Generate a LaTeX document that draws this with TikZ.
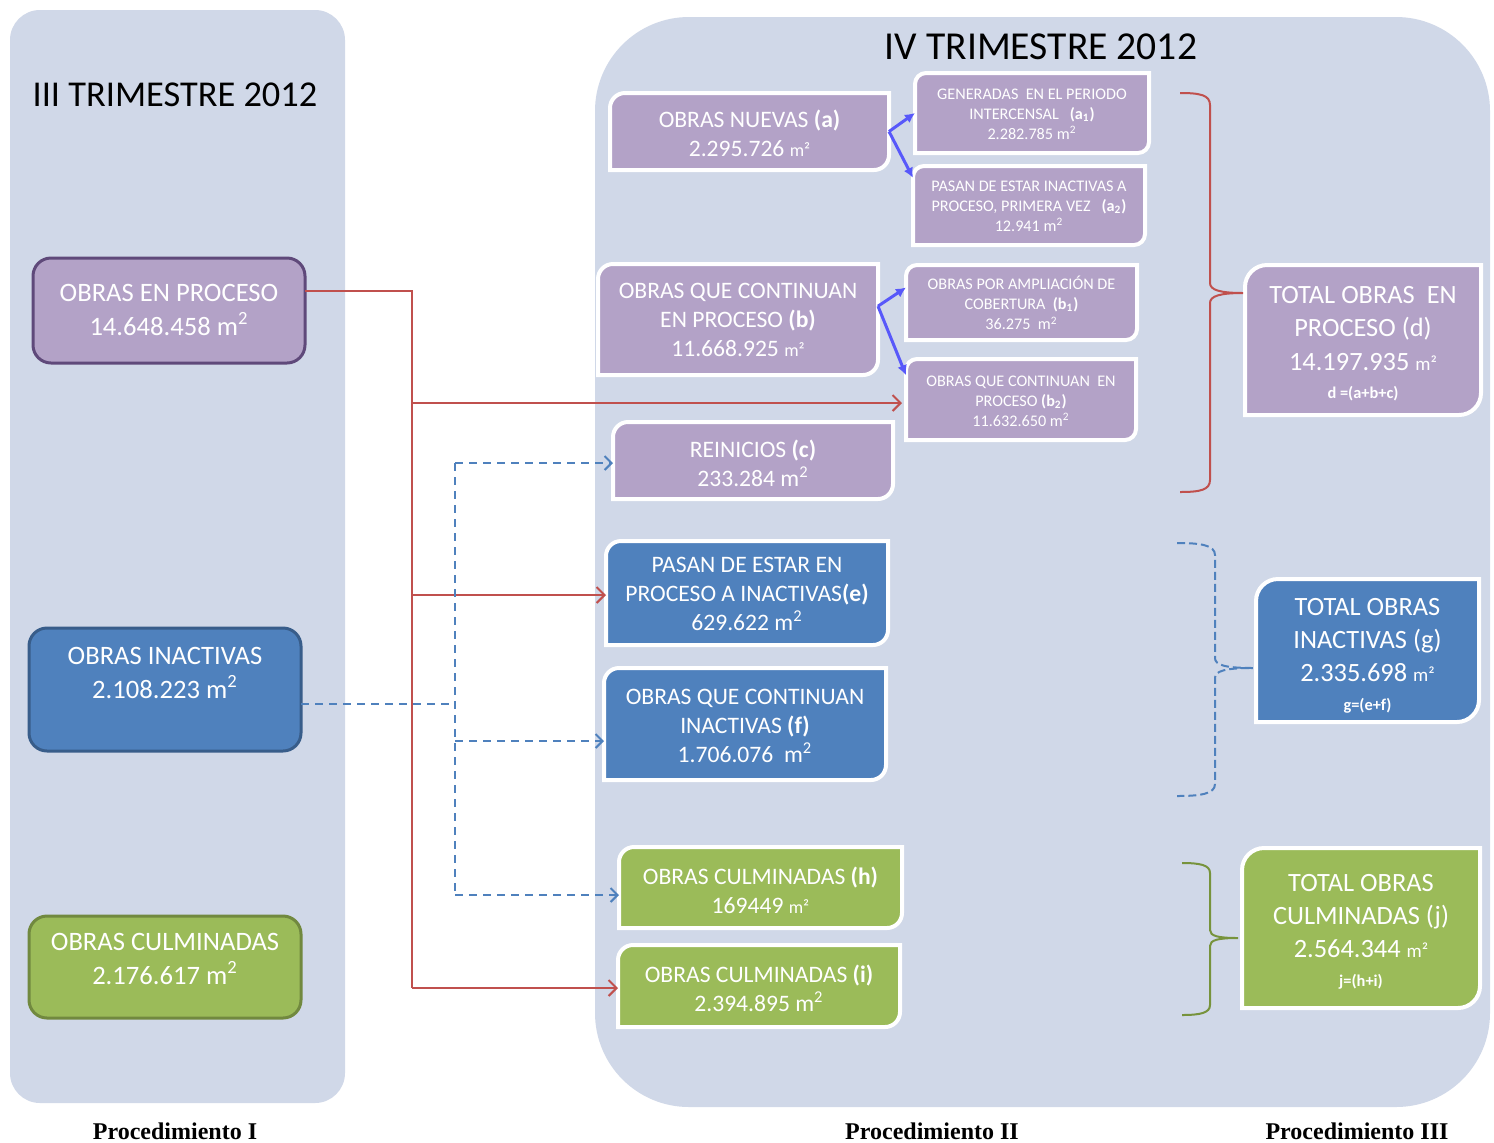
\documentclass[tikz,border=0pt]{standalone}
\usepackage{fontspec}
\setmainfont{Carlito}
\newfontfamily\tnr{Liberation Serif}
\usetikzlibrary{arrows.meta,calc}
\definecolor{panel}{RGB}{208,216,232}
\definecolor{purp}{RGB}{179,162,199}
\definecolor{purpd}{RGB}{95,73,122}
\definecolor{blu}{RGB}{79,129,189}
\definecolor{blud}{RGB}{56,93,138}
\definecolor{grn}{RGB}{155,187,89}
\definecolor{grnd}{RGB}{113,137,63}
\definecolor{redl}{RGB}{192,80,77}
\definecolor{brblue}{RGB}{88,88,250}
\definecolor{grnbr}{RGB}{119,147,60}
\newcommand{\msq}{{\fontsize{9}{9}\selectfont m²}}
\newcommand{\msqT}{{\fontsize{9.5}{9}\selectfont m²}}
\newcommand{\mtwo}{m\textsuperscript{2}}
\newcommand{\dbox}[7]{%
  \path[#6] ({#2},{#3+#7}) .. controls ({#2},{#3+0.45*#7}) and ({#2+0.45*#7},{#3}) .. ({#2+#7},{#3})
    -- ({#4},{#3}) -- ({#4},{#5-#7}) .. controls ({#4},{#5-0.45*#7}) and ({#4-0.45*#7},{#5}) .. ({#4-#7},{#5})
    -- ({#2},{#5}) -- cycle;
  \node[boxanchor, minimum width={(#4-#2)*0.5pt}, minimum height={(#5-#3)*0.5pt}] (#1) at ({(#2+#4)/2},{(#3+#5)/2}) {};
}
\newcommand{\lbox}[6]{%
  \path[#6, rounded corners=9pt] (#2,#3) rectangle (#4,#5);
  \node[boxanchor, minimum width={(#4-#2)*0.5pt}, minimum height={(#5-#3)*0.5pt}] (#1) at ({(#2+#4)/2},{(#3+#5)/2}) {};
}
\tikzset{
  boxanchor/.style={inner sep=0pt, outer sep=0pt, draw=none, rectangle},
  wtxt/.style={text=white, align=center, inner sep=0pt},
  txtL/.style={wtxt, font=\fontsize{13.3}{16.8}\selectfont},
  txtB/.style={wtxt, font=\fontsize{11.8}{14.5}\selectfont},
  txtS/.style={wtxt, font=\fontsize{8.1}{10}\selectfont},
  txtT/.style={wtxt, font=\fontsize{13.2}{16.3}\selectfont},
  rb/.style={draw=white, line width=2pt},
  redc/.style={draw=redl, line width=1.3pt},
  redarr/.style={redc, -{Straight Barb[length=4pt,width=8pt,line width=1pt]}},
  blued/.style={draw=blu, line width=1.2pt, dash pattern=on 4pt off 3pt},
  bluarr/.style={blued, -{Straight Barb[length=3.5pt,width=7pt,line width=1pt]}},
  brarr/.style={draw=brblue, line width=1.5pt, -{Latex[length=5pt,width=5pt]}},
  title/.style={inner sep=0pt, text=black},
  proc/.style={inner sep=0pt, font=\tnr\bfseries\fontsize{12}{14}\selectfont}
}
\begin{document}
\begin{tikzpicture}[x=0.5pt,y=-0.5pt]
\useasboundingbox (0,0) rectangle (1494,1142);
\fill[white] (0,0) rectangle (1494,1142);
% panels
\path[fill=panel, rounded corners=15pt] (10,10) rectangle (345,1103);
\path[fill=panel, rounded corners=47pt] (595,17) rectangle (1490,1107);
\node[title, font=\fontsize{18.2}{20}\selectfont] (t3) at (175,95) {III TRIMESTRE 2012};
\node[title, font=\fontsize{19.8}{22}\selectfont] (t4) at (1041,47) {IV TRIMESTRE 2012};
% left boxes
\lbox{enp}{33}{258}{305}{363}{fill=purp, draw=purpd, line width=1.5pt}
\node[txtL] (enpt) at (169,310) {OBRAS EN PROCESO\\14.648.458 \mtwo};
\lbox{ina}{29}{628}{301}{751}{fill=blu, draw=blud, line width=1.5pt}
\node[txtL] (inat) at (165,673) {OBRAS INACTIVAS\\2.108.223 \mtwo};
\lbox{cul}{29}{916}{301}{1018}{fill=grn, draw=grnd, line width=1.5pt}
\node[txtL] (cult) at (165,959) {OBRAS CULMINADAS\\2.176.617 \mtwo};
% right boxes
\dbox{a}{610}{93}{889}{170}{fill=purp, rb}{15}
\node[txtB] (at) at (749.5,133) {OBRAS NUEVAS \textbf{(a)}\\2.295.726 \msq};
\dbox{a1}{915}{73}{1149}{153}{fill=purp, rb}{11}
\node[txtS] (a1t) at (1032,114) {GENERADAS~~EN EL PERIODO\\INTERCENSAL~~~\textbf{(a\textsubscript{1})}\\2.282.785 \mtwo};
\dbox{a2}{913}{166}{1145}{245}{fill=purp, rb}{11}
\node[txtS] (a2t) at (1029,206) {PASAN DE ESTAR INACTIVAS A\\PROCESO, PRIMERA VEZ~~~\textbf{(a\textsubscript{2})}\\12.941 \mtwo};
\dbox{b}{598}{264}{878}{375}{fill=purp, rb}{15}
\node[txtB] (bt) at (738,320) {OBRAS QUE CONTINUAN\\EN PROCESO \textbf{(b)}\\11.668.925 \msq};
\dbox{b1}{906}{265}{1137}{340}{fill=purp, rb}{11}
\node[txtS] (b1t) at (1021.5,303) {OBRAS POR AMPLIACIÓN DE\\COBERTURA~~\textbf{(b\textsubscript{1})}\\36.275~~\mtwo};
\dbox{b2}{906}{359}{1136}{440}{fill=purp, rb}{11}
\node[txtS] (b2t) at (1021,401) {OBRAS QUE CONTINUAN~~EN\\PROCESO \textbf{(b\textsubscript{2})}\\11.632.650 \mtwo};
\dbox{c}{613}{422}{893}{499}{fill=purp, rb}{15}
\node[txtB] (ct) at (753,463) {REINICIOS \textbf{(c)}\\233.284 \mtwo};
\dbox{d}{1245}{265}{1481}{415}{fill=purp, rb}{22}
\node[txtT] (dt) at (1363,344) {TOTAL OBRAS~~EN\\PROCESO (d)\\[0.5pt]14.197.935 \msqT\\[-2pt]{\bfseries\fontsize{8.2}{10}\selectfont d =(a+b+c)}};
\dbox{e}{606}{541}{888}{645}{fill=blu, rb}{15}
\node[txtB] (et) at (747,594) {PASAN DE ESTAR EN\\PROCESO A INACTIVAS\textbf{(e)}\\629.622 \mtwo};
\dbox{f}{604}{668}{886}{780}{fill=blu, rb}{15}
\node[txtB] (ft) at (745,726) {OBRAS QUE CONTINUAN\\INACTIVAS \textbf{(f)}\\1.706.076~~\mtwo};
\dbox{g}{1256}{579}{1479}{722}{fill=blu, rb}{22}
\node[txtT] (gt) at (1367.5,656) {TOTAL OBRAS\\INACTIVAS (g)\\[0.5pt]2.335.698 \msqT\\[-2pt]{\bfseries\fontsize{8.2}{10}\selectfont g=(e+f)}};
\dbox{h}{619}{847}{902}{928}{fill=grn, rb}{15}
\node[txtB] (ht) at (760.5,890) {OBRAS CULMINADAS \textbf{(h)}\\169449 \msq};
\dbox{i}{618}{945}{900}{1027}{fill=grn, rb}{15}
\node[txtB] (it) at (759,988) {OBRAS CULMINADAS \textbf{(i)}\\2.394.895 \mtwo};
\dbox{j}{1242}{848}{1480}{1008}{fill=grn, rb}{22}
\node[txtT] (jt) at (1361,932) {TOTAL OBRAS\\CULMINADAS (j)\\[0.5pt]2.564.344 \msqT\\[-2pt]{\bfseries\fontsize{8.2}{10}\selectfont j=(h+i)}};
% red connectors
\coordinate (r0) at (412,291);
\coordinate (r1) at (412,403);
\coordinate (r2) at (412,595);
\coordinate (r3) at (412,988);
\draw[redc] (enp.east |- r0) -- (r0) -- (r3);
\draw[redarr, shorten >=2pt] (r1) -- (b2.west |- r1);
\draw[redarr] (r2) -- (e.west |- r2);
\draw[redarr] (r3) -- (i.west |- r3);
% blue dashed connectors
\coordinate (d0) at (455,704);
\coordinate (d1) at (455,463);
\coordinate (d2) at (455,741);
\coordinate (d3) at (455,895);
\draw[blued] (ina.east |- d0) -- (d0);
\draw[blued] (d1) -- (d3);
\draw[bluarr] (d1) -- (c.west |- d1);
\draw[bluarr] (d2) -- (f.west |- d2);
\draw[bluarr] (d3) -- (h.west |- d3);
% bright blue arrows
\draw[brarr] (a.east) -- (a1.west);
\draw[brarr] (a.east) -- ($(a2.north west)!0.15!(a2.south west)$);
\draw[brarr] ($(b.north east)!0.38!(b.south east)$) -- ($(b1.north west)!0.3!(b1.south west)$);
\draw[brarr] ($(b.north east)!0.38!(b.south east)$) -- ($(b2.north west)!0.2!(b2.south west)$);
% braces
\draw[redl, line width=1pt] (1180,93) .. controls (1200,93) and (1210,95) .. (1210,105) -- (1210,283)
  .. controls (1210,290) and (1220,293) .. (1243,293)
  .. controls (1220,293) and (1210,296) .. (1210,303) -- (1210,480)
  .. controls (1210,490) and (1200,492) .. (1180,492);
\draw[blu, line width=1pt, dash pattern=on 4pt off 2pt] (1177,543) .. controls (1200,543) and (1215,545) .. (1215,555) -- (1215,658)
  .. controls (1215,665) and (1225,668) .. (1253,668)
  .. controls (1225,668) and (1215,671) .. (1215,678) -- (1215,784)
  .. controls (1215,794) and (1200,796) .. (1177,796);
\draw[grnbr, line width=1pt] (1182,863) .. controls (1200,863) and (1210,865) .. (1210,873) -- (1210,930)
  .. controls (1210,936) and (1218,938) .. (1238,938)
  .. controls (1218,938) and (1210,940) .. (1210,946) -- (1210,1005)
  .. controls (1210,1013) and (1200,1015) .. (1182,1015);
% bottom labels
\node[proc] (p1) at (175,1131) {Procedimiento I};
\node[proc] (p2) at (932,1131) {Procedimiento II};
\node[proc] (p3) at (1357,1131) {Procedimiento III};
\end{tikzpicture}
\end{document}
